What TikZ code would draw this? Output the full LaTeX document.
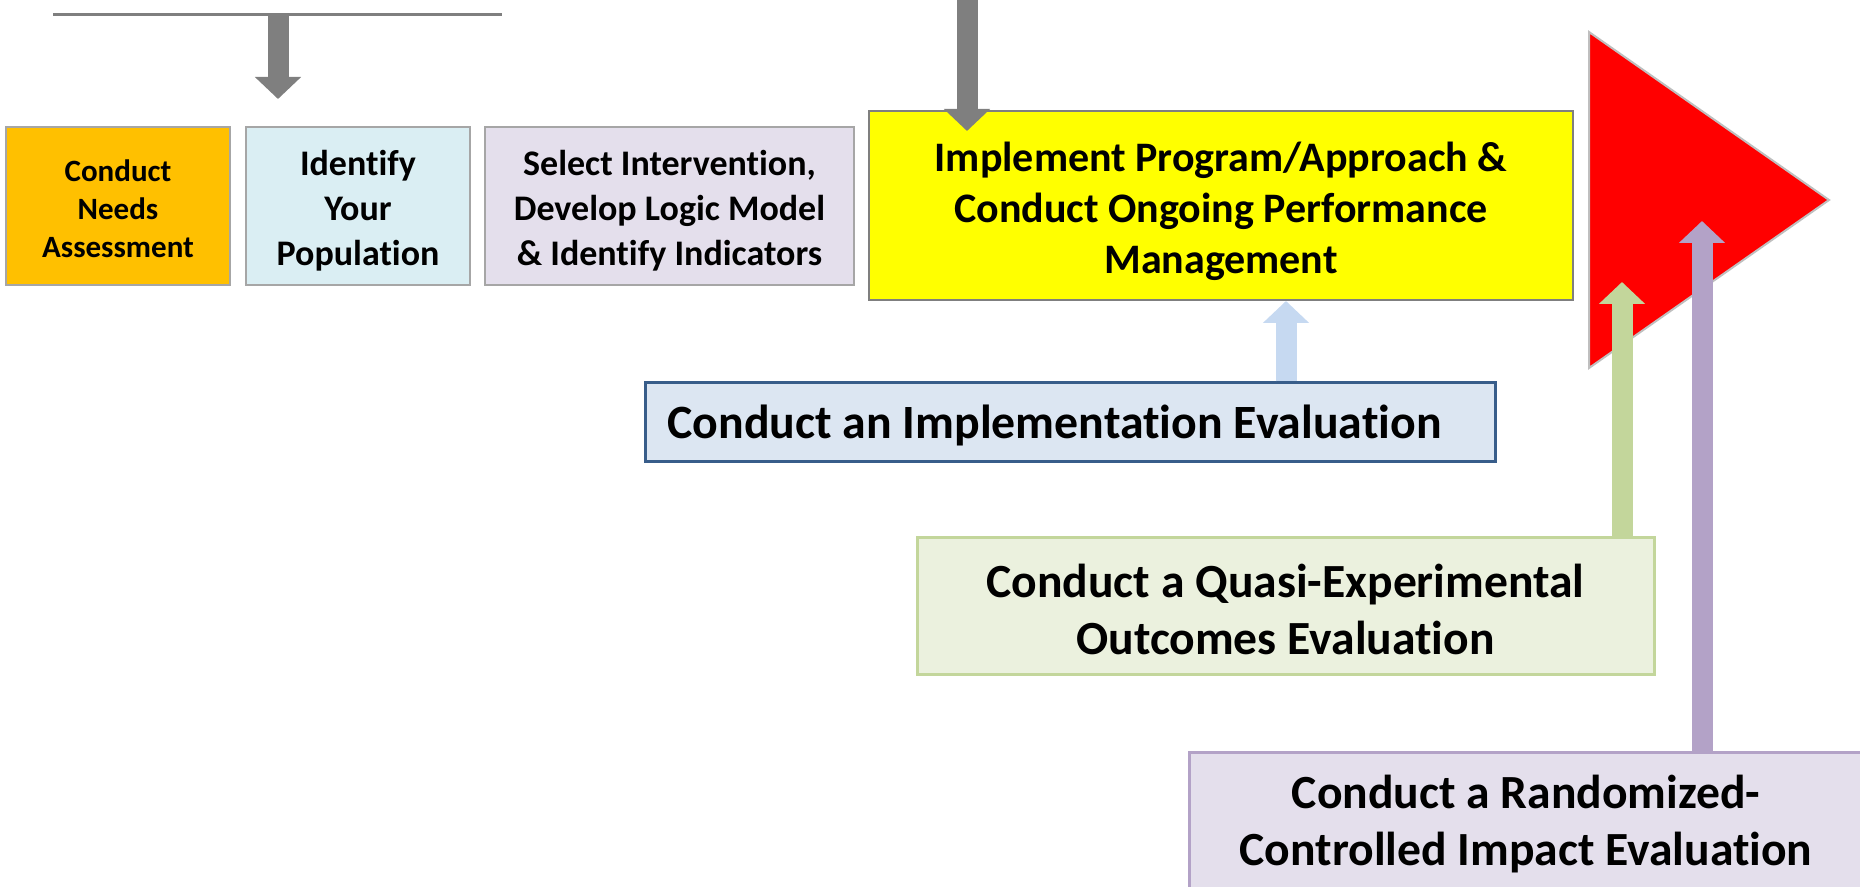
\documentclass[tikz,border=0pt]{standalone}
\usepackage{fontspec}
\setmainfont{Carlito}[Ligatures=NoCommon]
\usetikzlibrary{arrows.meta}
\definecolor{gArrow}{HTML}{7F7F7F}
\definecolor{cOrange}{HTML}{FFC000}
\definecolor{cBlue}{HTML}{DAEEF3}
\definecolor{cLav}{HTML}{E4DFEC}
\definecolor{cYellow}{HTML}{FFFF00}
\definecolor{cBorder}{HTML}{A6A6A6}
\definecolor{cImplFill}{HTML}{DCE6F2}
\definecolor{cImplBorder}{HTML}{385D8A}
\definecolor{cQuasiFill}{HTML}{EBF1DE}
\definecolor{cGreen}{HTML}{C3D69B}
\definecolor{cPurple}{HTML}{B3A2C7}
\definecolor{cLightBlue}{HTML}{C6D9F1}
\definecolor{cTriBorder}{HTML}{BFBFBF}
\begin{document}
\begin{tikzpicture}[x=0.5pt,y=-0.5pt,
  stepbox/.style={draw=cBorder, line width=1.3pt, rectangle, inner sep=0pt},
  steptext/.style={align=center, inner sep=0pt, font=\bfseries},
  bigarrow/.style={line width=10.5pt, -{Triangle[length=11pt,width=22.5pt]}}]
\useasboundingbox (0,0) rectangle (1860,887);

% red triangle
\draw[fill=red, draw=cTriBorder, line width=1pt] (1589,32) -- (1829,200) -- (1589,368) -- cycle;

% top bar
\coordinate (barL) at (53,15);
\coordinate (barR) at (502,15);
\draw[gArrow, line width=1.5pt] (barL) -- (barR);

% process boxes
\node[stepbox, fill=cOrange, minimum width=112pt, minimum height=79pt] (needs) at (118,206) {};
\node[steptext, font=\bfseries\fontsize{15.5}{19}\selectfont] (needsT) at (118,209) {Conduct\\Needs\\Assessment};
\node[stepbox, fill=cBlue, minimum width=112pt, minimum height=79pt] (pop) at (358,206) {};
\node[steptext, font=\bfseries\fontsize{18}{22.5}\selectfont] (popT) at (358,211) {Identify\\Your\\Population};
\node[stepbox, fill=cLav, minimum width=184.5pt, minimum height=79pt] (logic) at (669.5,206) {};
\node[steptext, font=\bfseries\fontsize{18}{22.5}\selectfont] (logicT) at (669.5,211) {Select Intervention,\\Develop Logic Model\\\& Identify Indicators};
\node[stepbox, draw=gArrow, line width=1pt, fill=cYellow, minimum width=352pt, minimum height=94.5pt] (impl) at (1221,205.5) {};
\node[steptext, font=\bfseries\fontsize{21}{25.5}\selectfont] (implT) at (1221,211.5) {Implement Program/Approach \&\\Conduct Ongoing Performance\\Management};

% evaluation boxes
\node[stepbox, draw=cImplBorder, line width=1.5pt, fill=cImplFill, minimum width=425pt, minimum height=39.5pt] (impeval) at (1070,422.5) {};
\node[steptext, anchor=west, font=\bfseries\fontsize{23.9}{28.5}\selectfont] (impevalT) at (667,425) {Conduct an Implementation Evaluation};
\node[stepbox, draw=cGreen, line width=1.5pt, fill=cQuasiFill, minimum width=368.5pt, minimum height=68.5pt] (quasi) at (1285.5,606.5) {};
\node[steptext, font=\bfseries\fontsize{23.8}{28.5}\selectfont] (quasiT) at (1285.5,609) {Conduct a Quasi-Experimental\\Outcomes Evaluation};
\node[stepbox, draw=cPurple, line width=1.5pt, fill=cLav, minimum width=337pt, minimum height=70pt] (rct) at (1526,822) {};
\node[steptext, font=\bfseries\fontsize{23.8}{28.5}\selectfont] (rctT) at (1526,824) {Conduct a Randomized-\\Controlled Impact Evaluation};

% arrows
\coordinate (a1s) at (278,15);
\coordinate (a1e) at (278,99);
\draw[bigarrow, gArrow] (a1s) -- (a1e);
\coordinate (a2s) at (967,-5);
\coordinate (a2e) at (967,131);
\draw[bigarrow, gArrow] (a2s) -- (a2e);
\draw[bigarrow, cLightBlue] (impeval.north -| 1286,0) -- (impl.south -| 1286,0);
\draw[bigarrow, cGreen] (quasi.north -| 1622,0) -- (1622,282);
\draw[bigarrow, cPurple] (rct.north -| 1702,0) -- (1702,221);
\end{tikzpicture}
\end{document}
